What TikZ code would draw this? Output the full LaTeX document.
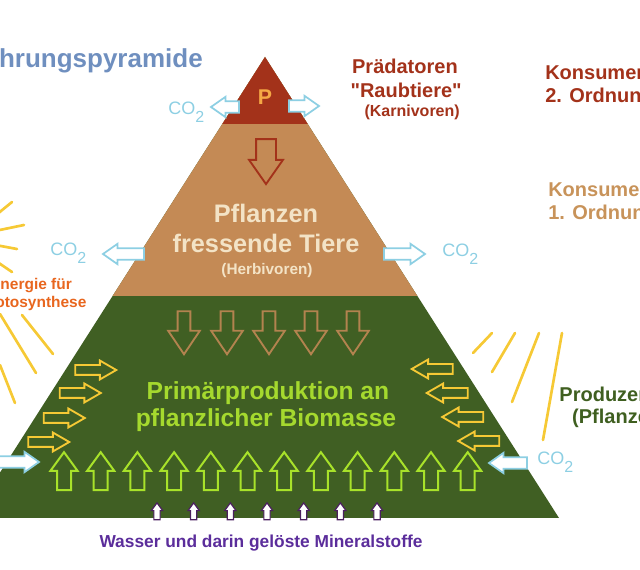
\documentclass[tikz,border=0pt]{standalone}
\usepackage{fontspec}
\setmainfont{Liberation Sans}
\usetikzlibrary{shapes.arrows}

\definecolor{tierred}{HTML}{A3321A}
\definecolor{tiertan}{HTML}{C48A55}
\definecolor{tiergreen}{HTML}{405F23}
\definecolor{titleblue}{HTML}{6F8FBF}
\definecolor{konstan}{HTML}{C8935A}
\definecolor{prodgreen}{HTML}{3F5F20}
\definecolor{cream}{HTML}{F3E3C6}
\definecolor{lime}{HTML}{A5D92E}
\definecolor{limeline}{HTML}{A8E22A}
\definecolor{sunyellow}{HTML}{F6C935}
\definecolor{feedbrown}{HTML}{B3834F}
\definecolor{coblue}{HTML}{8DCFE3}
\definecolor{purpletext}{HTML}{5B2D9B}
\definecolor{purpleline}{HTML}{4B2060}
\definecolor{energyorange}{HTML}{E8661E}
\definecolor{porange}{HTML}{F5A845}

\newcommand{\lblsize}[1]{\fontsize{#1pt}{#1pt}\selectfont}
\newcommand{\cotwo}{CO\raisebox{-5.5pt}{\fontsize{12pt}{12pt}\selectfont 2}}

\tikzset{
  lbl/.style={inner sep=0pt, font=\bfseries\lblsize{#1}},
  co/.style={inner sep=0pt, text=coblue, font=\lblsize{13.5}},
  blk/.style={single arrow, draw, inner xsep=0pt, minimum width=0pt},
  preyarrow/.style={blk, draw=tierred, line width=1.4pt, minimum height=33.75pt, inner ysep=6.75pt, single arrow head extend=5.25pt, single arrow tip angle=70},
  feedarrow/.style={blk, draw=feedbrown, line width=1.4pt, minimum height=32.25pt, inner ysep=4.1pt, single arrow head extend=7.1pt, single arrow tip angle=68},
  growarrow/.style={blk, draw=limeline, line width=1.5pt, minimum height=28.5pt, inner ysep=4.5pt, single arrow head extend=4.9pt, single arrow tip angle=72},
  sunarrow/.style={blk, draw=sunyellow, line width=1.4pt, minimum height=30.75pt, inner ysep=3pt, single arrow head extend=3.4pt, single arrow tip angle=60},
  coarrow/.style={blk, draw=coblue, fill=white, line width=1.3pt, inner ysep=3.6pt, single arrow head extend=3.4pt, single arrow tip angle=70},
  waterarrow/.style={blk, draw=purpleline, fill=white, line width=0.9pt, minimum height=12.75pt, inner ysep=1.9pt, single arrow head extend=1.9pt, single arrow tip angle=72},
  sunray/.style={draw=sunyellow, line width=2pt, line cap=round}
}

\begin{document}
\begin{tikzpicture}[x=0.75pt, y=-0.75pt]
\useasboundingbox (0,0) rectangle (640,570);
\clip (0,0) rectangle (640,570);

% Pyramid tiers
\fill[tiergreen] (265,57) -- (559,518) -- (-29,518) -- cycle;
\fill[tiertan] (265,57) -- (417.4,296) -- (112.6,296) -- cycle;
\fill[tierred] (265,57) -- (307.7,124) -- (222.3,124) -- cycle;

% Sun rays
\draw[sunray] (-10,220) -- (12,202) (-10,232) -- (24,225) (-10,244) -- (17,249) (-10,257) -- (12,272)
  (22,315) -- (53,354) (0,314) -- (36,373) (0,365) -- (15,403);
\draw[sunray] (473,353) -- (492,333) (492,372) -- (515,333) (512,402) -- (539,333) (543,440) -- (562,333);

% Labels outside
\node[lbl=19.5, text=titleblue, anchor=base east] (title) at (203,68) {Nahrungspyramide};
\node[lbl=15, text=tierred, anchor=base east] (praed) at (458,74) {Prädatoren};
\node[lbl=15, text=tierred, anchor=base east] (raub) at (462,98) {\textquotedbl Raubtiere\textquotedbl};
\node[lbl=12, text=tierred, anchor=base east] (karni) at (460,117) {(Karnivoren)};
\node[lbl=15, text=tierred, anchor=base west] (kons2) at (545,80) {Konsumenten};
\node[lbl=15, text=tierred, anchor=base west] (ord2) at (545,103) {2. Ordnung};
\node[lbl=15, text=konstan, anchor=base west] (kons1) at (548,197) {Konsumenten};
\node[lbl=15, text=konstan, anchor=base west] (ord1) at (548,220) {1. Ordnung};
\node[lbl=15, text=prodgreen, anchor=base] (prod) at (620,402) {Produzenten};
\node[lbl=15, text=prodgreen, anchor=base] (pflanz) at (620,424) {(Pflanzen)};
\node[lbl=11.6, text=energyorange, anchor=base] (energie) at (31,290) {Energie für};
\node[lbl=11.6, text=energyorange, anchor=base] (photo) at (31,308) {Photosynthese};
\node[lbl=13, text=purpletext, anchor=base] (wasser) at (261,548) {Wasser und darin gelöste Mineralstoffe};

% Labels inside
\node[lbl=16, text=porange, anchor=base] (p) at (265,105) {P};
\node[lbl=19, text=cream, anchor=base] (herb1) at (266,223) {Pflanzen};
\node[lbl=19, text=cream, anchor=base] (herb2) at (266,253) {fressende Tiere};
\node[lbl=11.5, text=cream, anchor=base] (herb3) at (267,275) {(Herbivoren)};
\node[lbl=18.5, text=lime, anchor=base] (prim1) at (268,400) {Primärproduktion an};
\node[lbl=18.5, text=lime, anchor=base] (prim2) at (266,427) {pflanzlicher Biomasse};

% CO2 release and uptake
\node[co, anchor=base west] (co1) at (168,115) {\cotwo};
\node[co, anchor=base west] (co2) at (50,256) {\cotwo};
\node[co, anchor=base west] (co3) at (442,257) {\cotwo};
\node[co, anchor=base west] (co4) at (537,465) {\cotwo};
\node[coarrow, minimum height=21pt, rotate=180] (coP1) at (229,107) {};
\node[coarrow, minimum height=22.5pt] (coP2) at (300,106) {};
\node[coarrow, minimum height=30.75pt, rotate=180] (coH1) at (127.5,254) {};
\node[coarrow, minimum height=30.75pt] (coH2) at (400.5,254) {};
\node[coarrow, minimum height=28.5pt, rotate=180] (coB1) at (512,463) {};
\node[coarrow, minimum height=30pt] (coB2) at (15,462) {};

% Food and energy flow
\node[preyarrow, rotate=-90] (eat) at (266,154.5) {};
\foreach \x [count=\i] in {184,227,269,311,353}
  \node[feedarrow, rotate=-90] (feed\i) at (\x,328) {};
\foreach \x/\y [count=\i] in {91.5/370, 76/393, 60/418, 44.5/442}
  \node[sunarrow] (sunL\i) at (\x,\y) {};
\foreach \x/\y [count=\i] in {436.5/369, 451.5/393, 467/417, 483/441}
  \node[sunarrow, rotate=180] (sunR\i) at (\x,\y) {};
\foreach \i in {0,...,11}
  \node[growarrow, rotate=90] (grow\i) at (64+36.7*\i,476) {};
\foreach \i in {0,...,6}
  \node[waterarrow, rotate=90] (water\i) at (157+36.67*\i,513.5) {};
\end{tikzpicture}
\end{document}
